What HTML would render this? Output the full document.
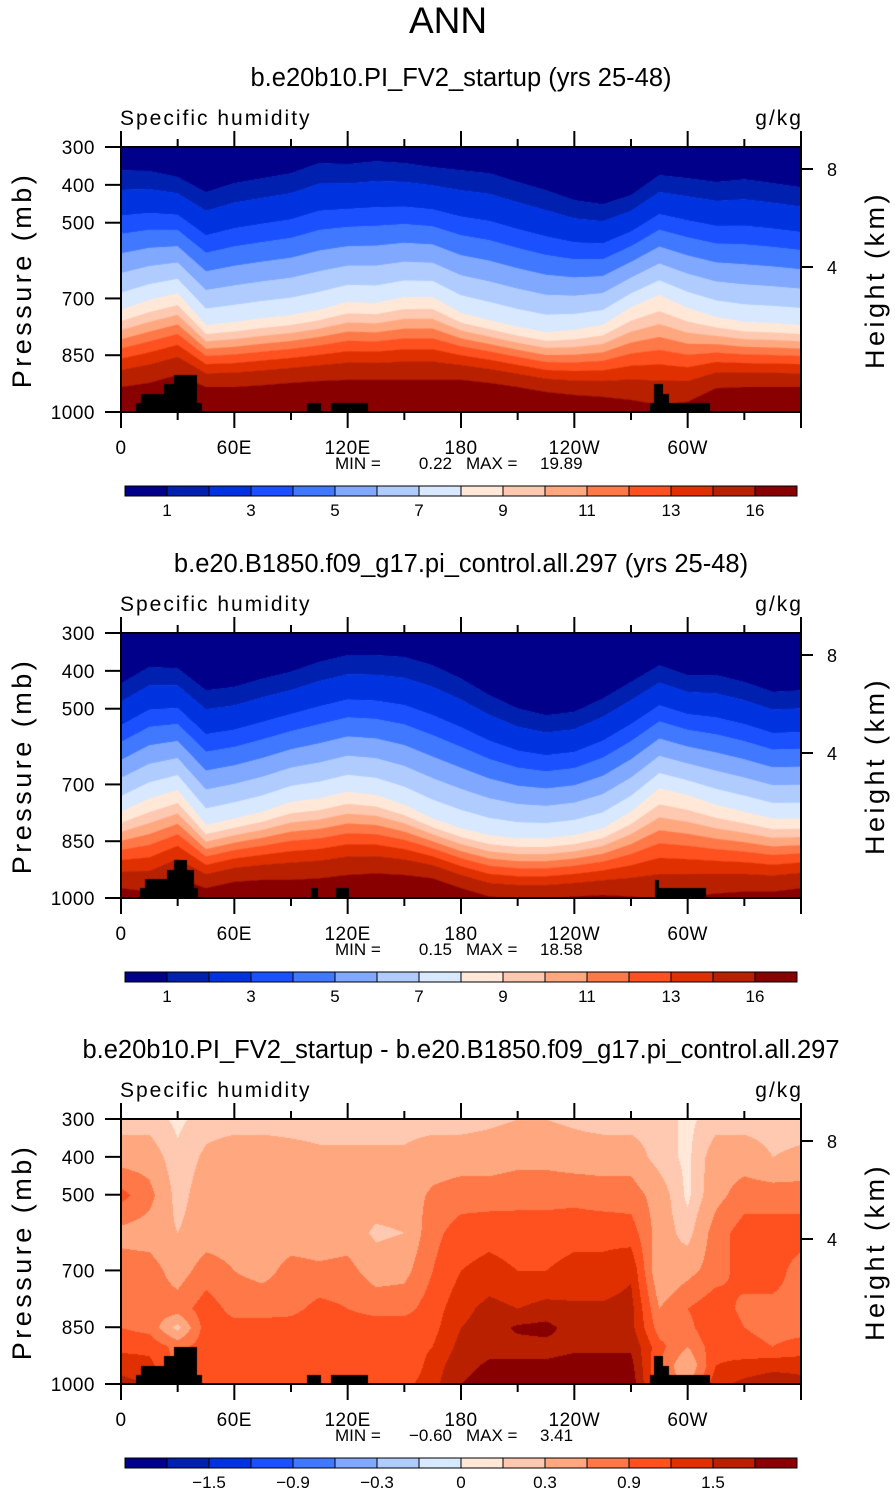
<!DOCTYPE html>
<html><head><meta charset="utf-8">
<style>
body{margin:0;background:#fff;width:895px;height:1493px;overflow:hidden;position:relative;font-family:"Liberation Sans",sans-serif}
canvas{position:absolute;left:121px;width:680px;height:265px}
svg{position:absolute;left:0;top:0}
text{font-family:"Liberation Sans",sans-serif;fill:#000}
</style></head><body>
<canvas id="c0" width="680" height="265" style="top:147px"></canvas>
<canvas id="c1" width="680" height="265" style="top:633px"></canvas>
<canvas id="c2" width="680" height="265" style="top:1119px"></canvas>
<svg id="ov" width="895" height="1493">
<text x="448" y="33" font-size="37" text-anchor="middle">ANN</text>
</svg>
<script>
// ---------- data ----------
const colors=["#00008a","#0020b0","#0033e0","#1a50ff","#4078ff","#80a8ff","#b0ccff","#d8e8ff","#ffe8d8","#ffc8b0","#ffa880","#ff7848","#ff5020","#e03000","#b82000","#880000"];
const lons=[0,15,30,45,60,75,90,105,120,135,150,165,180,195,210,225,240,255,270,285,300,315,330,345,360];
// panel 1: pressure (mb) of q=1 contour, cream contour, dark-red contour
const p1_top=[361,363,379,419,395,382,369,342,345,337,342,353,361,369,392,414,440,451,427,374,382,392,385,395,406];
const p1_mid=[730,704,686,770,762,752,744,730,709,712,696,696,738,757,775,789,783,770,723,691,725,749,762,765,770];
const p1_bot=[934,923,902,934,934,929,923,918,915,915,915,915,915,923,934,947,955,960,968,981,973,937,934,934,934];
// panel 2
const p2_top=[433,389,393,451,442,420,402,376,358,358,363,385,420,464,499,517,508,473,429,385,411,411,429,455,451];
const p2_mid=[772,737,715,807,790,772,746,737,719,728,754,790,816,834,842,842,834,816,772,710,728,754,772,790,790];
const p2_bot=[974,983,948,974,957,952,952,948,939,935,939,948,974,996,1001,1001,996,992,996,1001,996,988,983,983,974];
// panel 3: difference field on lon x pressure grid
const dLevs=[300,400,500,600,700,800,850,900,950,1000];
const diff=[
[0.2,0.45,1.0,0.5,0.75,0.8,0.9,1.1,1.4,1.6],
[0.2,0.45,0.7,0.45,0.75,0.75,0.8,1.1,1.3,1.5],
[0.05,0.15,0.2,0.3,0.45,0.75,0.2,0.8,0.8,0.8],
[0.2,0.35,0.45,0.45,0.75,1.05,1.05,1.05,1.05,1.05],
[0.2,0.45,0.45,0.45,0.6,0.8,1.0,1.05,1.1,1.1],
[0.2,0.45,0.45,0.45,0.5,0.8,1.0,1.05,1.1,1.2],
[0.2,0.4,0.45,0.45,0.7,0.8,1.05,1.0,1.1,1.2],
[0.2,0.35,0.45,0.45,0.65,1.0,1.2,1.05,1.05,1.1],
[0.2,0.35,0.45,0.45,0.7,0.9,1.05,1.05,1.05,1.1],
[0.2,0.35,0.45,0.25,0.45,0.8,1.05,1.2,1.1,1.1],
[0.2,0.35,0.45,0.3,0.5,0.8,1.05,1.0,0.9,1.1],
[0.2,0.45,0.65,0.8,0.9,1.05,1.1,1.2,1.35,1.4],
[0.2,0.45,0.75,1.05,1.2,1.4,1.5,1.6,1.7,1.8],
[0.25,0.45,0.75,1.1,1.3,1.6,1.65,1.7,1.85,1.95],
[0.3,0.5,0.8,1.05,1.2,1.5,1.85,1.7,1.85,2.0],
[0.3,0.5,0.8,1.05,1.2,1.6,1.9,1.7,1.85,2.0],
[0.25,0.45,0.8,1.1,1.3,1.55,1.65,1.75,1.9,2.0],
[0.2,0.45,0.75,1.1,1.3,1.55,1.6,1.75,1.9,2.0],
[0.2,0.45,0.75,1.05,1.45,1.6,1.6,1.75,1.9,2.0],
[0.2,0.2,0.45,0.45,0.3,0.6,0.75,1.0,0.9,0.9],
[0.05,0.05,0.05,0.2,0.5,0.9,0.8,0.6,0.3,0.5],
[0.2,0.45,0.5,0.75,0.75,1.1,1.2,1.1,1.2,1.4],
[0.2,0.45,0.75,1.05,1.05,0.8,0.9,1.0,1.3,1.6],
[0.2,0.3,0.75,1.05,1.05,0.8,0.8,0.9,1.4,1.7],
[0.2,0.35,0.75,1.05,0.75,0.8,0.8,1.0,1.4,1.6]];
const diffBounds=[-1.8,-1.5,-1.2,-0.9,-0.6,-0.3,-0.1,0,0.1,0.3,0.6,0.9,1.2,1.5,1.8];
// topography segments: [lonStart, lonEnd, surface pressure]
const topoA=[[7.9,10.6,976],[10.6,22.8,952],[22.8,28.1,926],[28.1,40.2,902],[40.2,42.9,976],[98.5,105.9,976],[111.2,130.8,976],[280,282,976],[282,287,926],[287,290,952],[290,312,976]];
const topoB=[[10,12.7,974],[12.7,24.4,951],[24.4,28.1,927],[28.1,35,900],[35,38.6,927],[38.6,40.8,974],[100.6,104.3,974],[114,120.7,974],[282.7,284.8,952],[284.8,309.7,974]];
const upperT=[0.14,0.325,0.456,0.596,0.737,0.877];
const lowerT=[0.147,0.265,0.382,0.5,0.632,0.779];
// ---------- axis functions ----------
const W=680,H=265;
const xOfLon=l=>l/360*W;
const yOfP=p=>(p-300)/700*H;
function interp(arr,lon){const i=Math.min(Math.floor(lon/15),arr.length-2);const f=(lon-lons[i])/15;return arr[i]*(1-f)+arr[i+1]*f;}
function drawBands(id,top,mid,bot,topo){
  const ctx=document.getElementById(id).getContext('2d');
  for(let x=0;x<W;x++){
    const lon=(x+0.5)/W*360;
    const a=interp(top,lon),m=interp(mid,lon),b=interp(bot,lon);
    const bs=[a];upperT.forEach(t=>bs.push(a+t*(m-a)));bs.push(m);lowerT.forEach(t=>bs.push(m+t*(b-m)));bs.push(b);
    let prev=0;
    for(let k=0;k<=15;k++){
      const y=k<15?yOfP(bs[k]):H;
      ctx.fillStyle=colors[k];ctx.fillRect(x,prev,1,Math.max(0,y-prev)+0.5);prev=Math.max(prev,y);
    }
  }
  drawTopo(ctx,topo);
}
function drawTopo(ctx,topo){
  ctx.fillStyle="#000";
  topo.forEach(s=>{const x0=xOfLon(s[0]),x1=xOfLon(s[1]),y=yOfP(s[2]);ctx.fillRect(Math.round(x0),Math.round(y),Math.round(x1)-Math.round(x0),H-Math.round(y));});
}
function drawDiff(id){
  const ctx=document.getElementById(id).getContext('2d');
  const img=ctx.createImageData(W,H);
  const rgb=colors.map(c=>[parseInt(c.substr(1,2),16),parseInt(c.substr(3,2),16),parseInt(c.substr(5,2),16)]);
  for(let y=0;y<H;y++){
    const p=300+y/H*700;let j=0;while(j<dLevs.length-2&&p>dLevs[j+1])j++;
    const fy=(p-dLevs[j])/(dLevs[j+1]-dLevs[j]);
    for(let x=0;x<W;x++){
      const lon=(x+0.5)/W*360;const i=Math.min(Math.floor(lon/15),23);const fx=(lon-lons[i])/15;
      const v=(diff[i][j]*(1-fx)+diff[i+1][j]*fx)*(1-fy)+(diff[i][j+1]*(1-fx)+diff[i+1][j+1]*fx)*fy;
      let k=0;while(k<15&&v>diffBounds[k])k++;
      const o=(y*W+x)*4;img.data[o]=rgb[k][0];img.data[o+1]=rgb[k][1];img.data[o+2]=rgb[k][2];img.data[o+3]=255;
    }
  }
  ctx.putImageData(img,0,0);
  drawTopo(ctx,topoA);
}
drawBands('c0',p1_top,p1_mid,p1_bot,topoA);
drawBands('c1',p2_top,p2_mid,p2_bot,topoB);
drawDiff('c2');
// ---------- axes / text ----------
const NS="http://www.w3.org/2000/svg";const svg=document.getElementById('ov');
function el(tag,attrs,txt){const e=document.createElementNS(NS,tag);for(const k in attrs)e.setAttribute(k,attrs[k]);if(txt!==undefined)e.textContent=txt;svg.appendChild(e);return e;}
const titles=["b.e20b10.PI_FV2_startup (yrs 25-48)","b.e20.B1850.f09_g17.pi_control.all.297 (yrs 25-48)","b.e20b10.PI_FV2_startup - b.e20.B1850.f09_g17.pi_control.all.297"];
const minmax=[["0.22","19.89"],["0.15","18.58"],["\u22120.60","3.41"]];
const cbLabels=[["1","3","5","7","9","11","13","16"],["1","3","5","7","9","11","13","16"],["\u22121.5","\u22120.9","\u22120.3","0","0.3","0.9","1.5"]];
const cbPos=[[1,3,5,7,9,11,13,15],[1,3,5,7,9,11,13,15],[2,4,6,8,10,12,14]];
const pTicks=[300,400,500,700,850,1000];
const lonLabels=["0","60E","120E","180","120W","60W"];
for(let n=0;n<3;n++){
  const o=n*486,L=121,T=147+o;
  let e;
  e=el('text',{x:461,y:86+o,'font-size':25.5,'text-anchor':'middle'},titles[n]);
  
  e=el('text',{x:120,y:125+o,'font-size':21,'letter-spacing':'2'},'Specific humidity');
  
  e=el('text',{x:803,y:125+o,'font-size':21,'text-anchor':'end','letter-spacing':'2'},'g/kg');
  
  e=el('rect',{x:L,y:T,width:W,height:H,fill:'none',stroke:'#000','stroke-width':2});
  
  pTicks.forEach(p=>{const y=T+yOfP(p);
    e=el('line',{x1:L-16,x2:L,y1:y,y2:y,stroke:'#000','stroke-width':2});
    
    e=el('text',{x:95,y:y+7,'font-size':19,'text-anchor':'end','letter-spacing':'0.5'},String(p));
    
  });
  for(let l=0;l<=360;l+=30){const x=L+xOfLon(l),len=(l%60===0)?16:8;
    e=el('line',{x1:x,x2:x,y1:T-len,y2:T,stroke:'#000','stroke-width':2});
    
    e=el('line',{x1:x,x2:x,y1:T+H,y2:T+H+len,stroke:'#000','stroke-width':2});
    
  }
  lonLabels.forEach((s,i)=>{
    e=el('text',{x:L+xOfLon(i*60),y:T+H+42,'font-size':19,'text-anchor':'middle','letter-spacing':'0.5'},s);
    
  });
  [[8,T+22],[4,T+120]].forEach(h=>{
    e=el('line',{x1:L+W,x2:L+W+12,y1:h[1],y2:h[1],stroke:'#000','stroke-width':2});
    
    e=el('text',{x:827,y:h[1]+7,'font-size':18},String(h[0]));
    
  });
  e=el('text',{x:0,y:0,'font-size':27,'text-anchor':'middle','letter-spacing':'3.5',transform:`translate(31,${280+o}) rotate(-90)`},'Pressure (mb)');
  
  e=el('text',{x:0,y:0,'font-size':27,'text-anchor':'middle','letter-spacing':'3.5',transform:`translate(884,${280+o}) rotate(-90)`},'Height (km)');
  
  e=el('text',{x:335,y:469+o,'font-size':17},'MIN =');
  
  e=el('text',{x:452,y:469+o,'font-size':17,'text-anchor':'end'},minmax[n][0]);
  
  e=el('text',{x:466,y:469+o,'font-size':17},'MAX =');
  
  e=el('text',{x:540,y:469+o,'font-size':17},minmax[n][1]);
  
  const cw=42,cx=125,cy=486+o;
  for(let k=0;k<16;k++){
    e=el('rect',{x:cx+k*cw,y:cy,width:cw,height:10,fill:colors[k],stroke:'#000','stroke-width':1});
    
  }
  cbLabels[n].forEach((s,i)=>{
    e=el('text',{x:cx+cbPos[n][i]*cw,y:cy+30,'font-size':17,'text-anchor':'middle'},s);
    
  });
}
</script>
</body></html>
